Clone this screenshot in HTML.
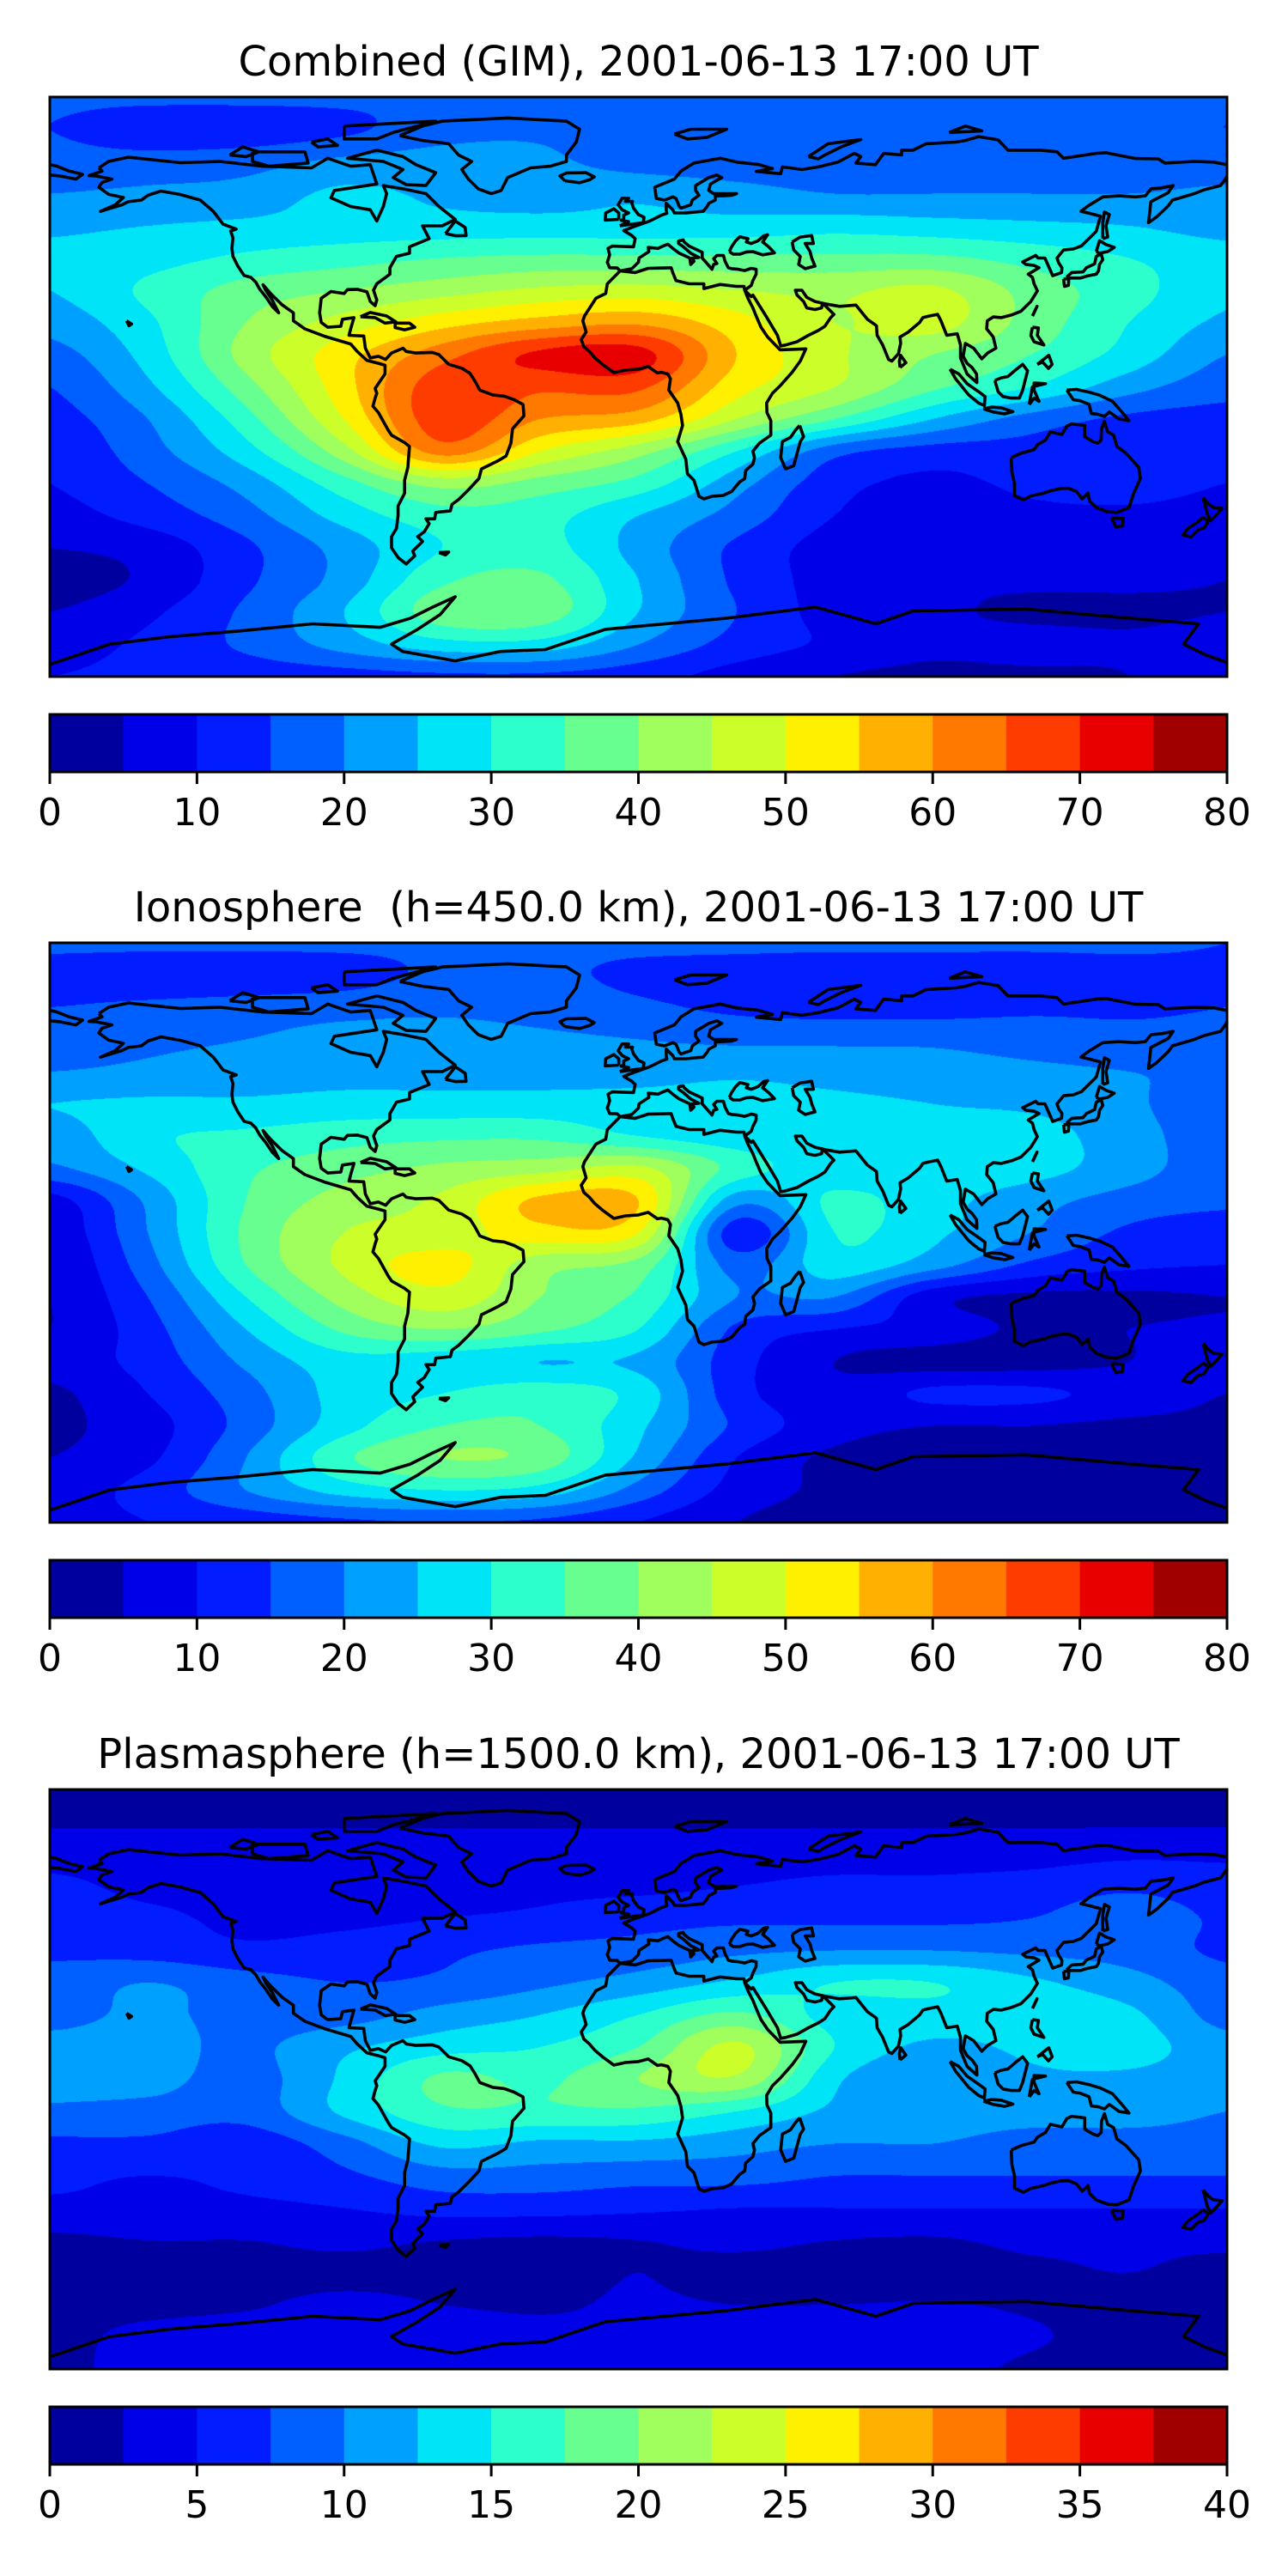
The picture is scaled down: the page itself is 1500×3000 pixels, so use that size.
<!DOCTYPE html>
<html><head><meta charset="utf-8">
<style>
html,body{margin:0;padding:0;background:#fff;}
#wrap{position:relative;width:1500px;height:3000px;overflow:hidden;background:#fff;}
canvas{position:absolute;left:58px;width:1371px;height:675px;}
svg{position:absolute;left:0;top:0;}
text{font-family:"DejaVu Sans","Liberation Sans",sans-serif;fill:#000;}
</style></head>
<body>
<div id="wrap">
<canvas id="c0" width="1371" height="675" style="top:113px"></canvas>
<canvas id="c1" width="1371" height="675" style="top:1098px"></canvas>
<canvas id="c2" width="1371" height="675" style="top:2084px"></canvas>
<svg id="ov" width="1500" height="3000"></svg>
</div>
<script>
// ---- data ----
const lons = [-180,-150,-120,-90,-60,-30,0,30,60,90,120,150,180];
const lats = [90,80,70,60,50,40,30,20,10,0,-10,-20,-30,-40,-50,-60,-70,-80,-90];
const titles = ["Combined (GIM), 2001-06-13 17:00 UT","Ionosphere  (h=450.0 km), 2001-06-13 17:00 UT","Plasmasphere (h=1500.0 km), 2001-06-13 17:00 UT"];
const ticks80 = [0,10,20,30,40,50,60,70,80];
const ticks40 = [0,5,10,15,20,25,30,35,40];
const levelColors = ["#00009f","#0000e8","#001cff","#0060ff","#00a0ff","#00e4f8","#2dffcc","#66ff90","#a0ff5c","#ccff2a","#fff000","#ffb000","#ff7800","#ff3c00","#e80000","#a00000"];
const vmax = [80,80,40];
const gridGIM = [
[16,16,16,16,16,16,16,16,16,16,16,16,16],
[15,12,12,14,18,19,17,16,16,16,16,16,15],
[17,17,18,21,22,21,18,17,17,17,17,17,17],
[20,21,22,26,24,23,24,22,20,20,20,20,21],
[24,25,26,27,27,27,27,27,28,27,26,25,23],
[26,28,31,33,35,36,36,36,36,36,33,30,27],
[25,31,37,40,43,46,47,45,44,46,38,32,26],
[22,29,40,47,53,57,59,52,45,47,38,30,24],
[18,27,42,53,63,71,72,55,46,40,35,28,20],
[15,24,38,53,68,66,66,52,45,36,30,22,17],
[13,20,33,50,68,60,57,45,35,25,18,14,13],
[11,18,28,43,62,50,42,30,17,13,13,12,12],
[10,15,22,33,42,38,33,22,12,9,11,12,10],
[8,12,18,27,33,32,25,18,10,8,9,9,8],
[5,7,14,22,30,32,23,14,8,7,8,8,6],
[3,6,14,22,34,36,25,14,8,6,6,6,5],
[5,9,16,25,38,38,25,15,8,6,4,4,5],
[8,11,16,22,28,28,20,13,9,6,7,6,8],
[10,11,12,13,14,14,12,8,5,4,4,5,9]];
const gridIono = [
[16,16,16,16,16,16,16,16,16,16,16,16,15],
[13,12,12,13,16,16,14,13,12,12,12,13,14],
[15,16,17,18,19,18,16,14,13,13,14,14,15],
[18,19,20,22,22,21,20,19,19,19,18,17,17],
[20,21,22,23,23,23,23,24,23,22,21,20,19],
[25,26,26,27,27,27,27,27,26,25,24,21,16],
[22,29,31,33,34,34,30,27,26,26,27,22,17],
[19,26,34,38,41,43,46,33,27,28,27,22,17],
[8,21,35,42,46,56,55,22,31,27,22,18,16],
[6,20,36,45,47,53,50,12,30,26,20,14,12],
[5,18,35,46,52,42,38,18,28,22,14,11,10],
[5,15,30,42,48,40,34,20,20,7,4,4,5],
[5,13,25,36,40,36,30,14,10,8,4,5,6],
[7,12,21,28,27,25,24,12,5,3,3,5,8],
[4,10,18,27,30,33,28,12,7,11,11,8,5],
[4,8,17,28,35,35,26,14,7,5,5,4,4],
[5,9,20,34,40,38,24,10,4,3,3,3,3],
[7,12,20,27,30,28,18,8,4,3,3,3,4],
[8,10,12,14,15,14,10,5,3,3,3,3,5]];
const gridPlasma = [
[1.5,1.5,1.5,1.5,1.5,1.5,1.5,1.5,1.5,1.5,1.5,1.5,1.5],
[2.2,2.2,2.2,2.2,2.2,2.2,2.2,2.2,2.2,2.2,2.2,2.2,2.2],
[4,4,4,4,4,4,4,4,4,4,4,4.5,4.5],
[5.5,4.5,4.5,4.2,4.2,4.5,4.5,5,5.5,5.5,6,7,6],
[6,5.5,4.5,4.5,5,5.5,6.5,7,7,7,7.5,9,7],
[7,6.5,5.5,6,7,8,8.5,9.5,10,10,9.5,9,7],
[8.5,10,8.5,7.5,8,9.5,11,13,15,15,13,11,8.5],
[9,10.5,9,9,11,12.5,15,18,14,14,14,13,9],
[11,11,9.5,12,14,15,17.5,23,15,12,13,13.5,11],
[11,11,9,13,18,17,20,22,13,10.5,12,12,11],
[9.5,9,8.5,13,17,17,17,15,12,11,11,11,10],
[7,7,6,9,13,12,12,11,10,10,9,9,9],
[5.5,5,5.5,7,9,9,8.5,8.5,7.5,7.5,7.5,7.5,7.5],
[4.5,4.5,4.5,5,6,6,5.5,5,5,5,5,5,5],
[2,2.5,2.5,3,2.5,2.2,2.5,3,2.5,2.3,3,3,3],
[1.5,1.8,2,2,2,2,2.5,2,2,2,2.2,2.5,2],
[2,2,2.3,3,2.5,2.3,2.7,2.5,2.5,2.6,2.3,2,2],
[2,3,3.5,3.8,3.5,3,3,3.5,3.8,3.8,2.7,2,2],
[2,3.2,3.5,3.5,3.5,3.3,3.5,3.5,3.5,3.2,2.2,2,2]];
const grids = [gridGIM, gridIono, gridPlasma];

// ---- coastlines (lon,lat) ----
const coasts = [
[[-165,68],[-162,70],[-156,71.3],[-140,69.6],[-128,70],[-115,68.5],[-100,68],[-95,71],[-88,68.5],[-82,69],[-80,63],[-93,61],[-94,58.7],[-88,56],[-82,55],[-80,51.5],[-78,56],[-77,60],[-78,62.5],[-72,61.5],[-65,60],[-61,56],[-56,52],[-60,50],[-66,50],[-64,46],[-70,43.5],[-70,41.5],[-74,40.5],[-76,37],[-76,35],[-80,32],[-81,30],[-80,27],[-80.5,25.2],[-82,26.5],[-83,29.5],[-86,30.3],[-89,30.2],[-90,29],[-94,29.6],[-97,27.5],[-97.5,23],[-97,20],[-95,18.5],[-91,18.8],[-90.5,21],[-87,21.5],[-88,18],[-88.5,16],[-84,15.8],[-83.5,12],[-82,9],[-79.5,9.5],[-77.3,8.5],[-75.5,10.5],[-72,12],[-71,11],[-68,10.5],[-63,10.7],[-61,10],[-58,7],[-54,5.8],[-51.5,4.2],[-50,1.8],[-48.5,-1],[-44.5,-2.5],[-41,-2.9],[-38,-4],[-35.3,-5.5],[-35,-9],[-38.5,-13],[-39,-17.5],[-40.5,-21.5],[-43,-23],[-48,-25.5],[-48.8,-28.5],[-52,-32],[-55,-35],[-57,-36.5],[-57.5,-38.5],[-62,-39],[-62.3,-41],[-65,-41],[-64,-42.5],[-65.5,-45],[-67.5,-46.5],[-66,-48],[-69,-51],[-68.4,-52.5],[-70,-54],[-71,-55],[-73.5,-53],[-75.5,-50],[-75.5,-46.5],[-74,-44],[-73.5,-40],[-73.5,-37],[-71.5,-33],[-71.5,-29],[-70.5,-25],[-70,-18.5],[-71.5,-17.3],[-75.5,-15],[-76.5,-13.5],[-79.5,-8],[-81.2,-6],[-80.5,-3.5],[-80,-2],[-80.5,-0.5],[-79.5,1],[-78.5,2.5],[-77.5,4],[-77.5,6.7],[-79.5,7.3],[-83,8.2],[-86,11],[-88,13.3],[-92,14.5],[-96,15.7],[-102,18],[-105.5,20.5],[-105.5,23],[-109,25.5],[-112.5,29],[-114.8,31.7],[-114,30],[-112,27],[-110,23],[-112,25],[-114,28],[-115.8,30.3],[-117,32.5],[-118.5,34],[-120.6,34.6],[-122.5,37.5],[-124,40.5],[-124.3,43],[-124,46.3],[-124.7,48.4],[-123,49],[-127,50.5],[-130,54.5],[-134,58],[-140,59.7],[-146,60.8],[-150,59.5],[-152,58],[-156,57.5],[-158,56.5],[-162,55.3],[-164.5,54.5],[-160,56.5],[-157.5,58.8],[-162,59.8],[-165,62],[-164,63.5],[-161,64.5],[-166,65.5],[-168,65.6],[-164,67],[-165,68]],
[[-73,78],[-66,81],[-60,82.5],[-40,83.5],[-22,82.5],[-18,80],[-19,76],[-22,72],[-22,70],[-27,68.5],[-33,68],[-40,65],[-42,61],[-45,60],[-49,61.5],[-52,64.5],[-54,67.5],[-51,70],[-55,72],[-58,75.5],[-66,76.5],[-73,78]],
[[-80,73.5],[-72,71.5],[-68,69],[-62,66.5],[-65,62.5],[-71,62.8],[-75,65],[-72,67.5],[-78,70],[-89,71],[-80,73.5]],
[[-118,73],[-102,73],[-101,69.5],[-113,68.5],[-118,70],[-118,73]],
[[-90,81],[-62,82.5],[-75,79],[-80,77],[-90,77],[-90,81]],
[[-125,72],[-121,74.5],[-116,73],[-120,71.5],[-125,72]],
[[-100,76],[-95,77],[-92,75],[-98,74.5],[-100,76]],
[[-5.6,36],[-9.5,32],[-10,29],[-13,27.5],[-16.5,22],[-17,20.5],[-16,17],[-17.5,14.7],[-16.7,12.5],[-15,11],[-13.3,9],[-11,7],[-7.5,4.4],[-4,5.2],[0,5.5],[3,6.3],[5.8,4.3],[7,4.5],[9,4],[9.8,2.5],[9.3,-1],[12,-5],[13,-8.5],[13.5,-12],[12,-17],[14.5,-22.5],[15,-27],[17,-29],[18.5,-34],[20,-34.8],[22.5,-34],[26,-33.7],[28.5,-32.5],[31,-29.5],[32.5,-28.5],[32.8,-26],[35,-24],[35.5,-22],[35,-20],[37,-17.5],[40.5,-15],[40.5,-10.5],[39.3,-8],[39.2,-5],[41,-2],[43.5,0.5],[47,4.5],[49.5,8],[51.2,11.8],[43.3,11.5],[39.5,15.5],[37.5,18.5],[36,22],[35,24.5],[33.5,27.5],[32.5,30],[32.3,31.2],[30,31.2],[25,31.8],[20,30.5],[20,32],[15.5,32],[11.5,33],[10.5,35.5],[10,37],[8,36.9],[3,36.8],[-1,35.5],[-5.6,36]],
[[32.5,30],[34.5,28],[35,28.5],[39,22],[42.5,16],[43.5,12.7],[45,13],[48.5,14],[52,16],[55,17.5],[57,18.8],[58.8,21.5],[59.8,22.5],[56.3,26],[56,24.5],[54,24],[51.5,24.5],[50.5,26.5],[48.5,28.5],[48,30],[50,30],[51.5,27.8],[54,26.5],[57,25.8],[61.5,25],[66.5,25.4],[68,23.5],[70,21],[72.8,19],[73,16],[74.7,13],[76.5,8.5],[77.5,8],[79.5,10.3],[80.2,13.5],[80,15.5],[82.5,17],[86,20],[87,21.5],[89,22],[91.5,22.5],[92.5,20.5],[94.3,16],[97.5,16.5],[98.5,13],[98.5,9],[100.5,4],[103.5,1.3],[103.4,4],[102,6],[100.5,7.3],[99.3,9.5],[100,13.5],[102.5,12],[105,8.7],[106.8,10.5],[109.3,12],[108.5,15.5],[106.5,18],[106.7,20.5],[108.5,21.7],[111,21.5],[114,22.3],[117,23.5],[120,26.5],[122,29.8],[121,32],[120.5,34],[119.2,35],[122.5,37],[121,37.7],[118.5,38],[117.5,38.8],[121.5,40.8],[122.2,40],[124.3,40],[125.3,37.7],[126.7,34.5],[129.4,35.5],[129.5,37],[128.5,38.5],[128,40],[130,42.5],[133,42.8],[135.5,43.8],[140,48.3],[141.3,53],[137.5,54],[135.3,54.5],[138,56.5],[142,59],[147,59.3],[152,59],[155,59.3],[156.8,61.5],[160,61.8],[163.5,62.5],[162,60.3],[156.7,57.5],[156,51],[158.5,52.8],[162,56.2],[163.3,58],[170,60],[173,61.2],[178,62.5],[179.5,64.5],[180,65.5]],
[[-180,65.8],[-177,65.5],[-172,64.5],[-170,66],[-174,67],[-178,68.6],[-180,69]],
[[180,69],[176,69.8],[170,70],[161,69.5],[159,70.8],[152,70.9],[143,72.7],[140,72.5],[130,71],[128,73],[123,73.5],[113,73.5],[110,76.7],[104,77.7],[100,76.5],[97,76],[88,75.5],[84,73.5],[80.5,73.5],[80.5,72],[75,72.5],[72.5,69],[66.5,69.5],[68,71.5],[66,72.5],[61,69.8],[55,68.3],[50,67.5],[44,68.3],[43.5,66.2],[40,66.5],[36,66.9],[41,67.8],[36.5,69.1],[30,69.8],[25,71],[17,69.5],[13,67],[11,64.5],[5,62],[5.5,58.5],[8,58],[10.5,59],[11.5,58.5],[12.5,56],[13,55.5],[14.5,56],[16,56.5],[16.5,58],[18.5,59.5],[17.5,61],[17.5,62.5],[21.5,65],[24,65.8],[25.5,65],[22,63],[21.5,61],[23,60],[30,60],[28.5,59.5],[23.5,59.2],[23.5,58],[21.5,57],[21,56],[19.8,54.5],[14.5,54],[11,54],[10.5,55],[8.5,57],[8.5,55],[8.7,53.9],[7,53.3],[4.5,52],[3,51.3],[1.5,50.8],[-1.5,49.7],[-4.5,48.5],[-2,47],[-1,46],[-1.5,43.5],[-8,43.7],[-9.3,43],[-8.8,41],[-9.5,38.7],[-8.8,37],[-6.5,36.9],[-5.6,36],[-2,36.7],[0,38.7],[0.2,40],[3.2,42],[3,43.3],[6,43],[7.5,43.7],[9,44.3],[10.5,43],[12.5,41.5],[15.7,40],[16,38],[17,39],[16.5,40],[18.5,40.2],[16,41.5],[13.5,43.7],[12.3,44.5],[12.3,45.3],[13.7,45.6],[14,45],[15.5,43.7],[19.5,41.8],[19.5,40],[21,38.3],[22.5,36.5],[23,38],[24,38.3],[23,39.8],[24,40.8],[26,40.8],[26.5,39],[27.5,37],[28.5,36.7],[30.5,36.5],[32.5,36.1],[34.5,36.8],[36,36.5],[36,35],[35,33],[34.5,31.5],[32.5,30]],
[[27.8,42],[28.5,43.5],[29.7,45.3],[31,46.6],[33.5,46],[33,45],[34.5,44.5],[36.5,45.3],[38.3,46.9],[39.5,47.2],[38,45],[39.8,43.5],[41.6,41.6],[38,41],[35,42],[33,41.9],[31,41.2],[29,41.2],[27.8,42]],
[[47,45],[49.5,46.5],[53,47],[53.5,44.5],[51,44.5],[52.5,42],[53,40],[54,37.5],[51,36.7],[49,38],[49.5,40.5],[47.5,42.5],[47,45]],
[[-5.7,50],[1.5,51],[1.7,52.7],[0,53.5],[-1.5,55.5],[-2,57],[-1.8,57.6],[-4,57.6],[-3,58.6],[-5,58.6],[-6.2,56.5],[-5,55],[-3,54],[-4.5,53.3],[-4.5,52],[-5.3,51.7],[-3,51.3],[-5.7,50]],
[[-6,52],[-6,54],[-7.5,55.3],[-10,54],[-10.2,51.8],[-6,52]],
[[-22.5,64],[-24,65.5],[-22,66.4],[-16,66.5],[-13.5,65.2],[-15,64.3],[-18,63.4],[-22.5,64]],
[[11,78.5],[16,80],[27,80],[21,77.5],[15,77],[11,78.5]],
[[52,71.5],[55,73.5],[58,75.5],[68,76.8],[62,74.5],[57,72],[55,70.8],[52,71.5]],
[[95,79],[105,79.5],[100,81],[95,79]],
[[130.9,34],[132.5,35.5],[136,35.7],[137,37],[139.5,38.2],[140,40.5],[141.5,41.3],[142,39.5],[141,38],[140.7,36],[140,35],[138,34.6],[136.8,34.3],[135.2,33.8],[132,33.8],[130.9,34]],
[[130,33.5],[131.6,33.6],[131.5,31.5],[130.3,31.2],[130,33.5]],
[[140,42],[141,45.4],[143,44.2],[145.5,43.3],[143.5,42],[141,41.5],[140,42]],
[[142,46],[143.5,46.5],[143,50],[144,53.5],[142.5,54.3],[142,51],[142,46]],
[[120.5,22],[121.9,25],[121,23],[120.5,22]],
[[80,6],[81.8,7.5],[80.2,9.8],[79.8,8],[80,6]],
[[120.5,18.5],[122.3,18.3],[122,16],[124,13],[121,14],[120,16],[120.5,18.5]],
[[122,7],[125.5,9.8],[126.5,7],[125.4,5.7],[123.6,7.7],[122,7]],
[[109,2],[111,2.8],[113,3.2],[115.5,5.4],[117.5,7],[119,5],[118,1],[117.5,-1],[116.5,-3.5],[114,-3.5],[111.5,-3],[110,-1.5],[109,2]],
[[95.3,5.5],[98,4],[100.5,1],[104,-1.5],[106,-3],[105.8,-5.8],[104,-5],[101,-2.5],[99,0],[97,2.5],[95.3,5.5]],
[[105.5,-6.8],[108,-6.3],[111,-6.5],[114.5,-7.7],[112,-8.4],[108.5,-7.8],[105.5,-6.8]],
[[119.5,-5.5],[120.5,0],[124.5,1],[121,1.2],[121,-1],[122.5,-4.5],[121,-3.5],[119.5,-5.5]],
[[131,-1],[134,-0.8],[138,-1.7],[141,-2.6],[145,-4.5],[148,-8],[150,-10.5],[147,-10],[144,-7.8],[142.5,-9.2],[140.5,-8.5],[138.5,-8.3],[137.8,-5.4],[135,-4.3],[133,-4],[132,-2.5],[131,-1]],
[[114,-22],[114.2,-26.5],[115,-30],[115,-33.8],[117.8,-35.1],[120,-33.9],[124,-33],[126,-32.3],[129,-31.6],[131.5,-31.5],[134,-32.5],[135.7,-34.8],[137.5,-33],[138,-35.5],[140,-37.5],[143.5,-38.8],[146.3,-39],[150,-37.5],[151.5,-33],[153.5,-28.5],[153,-25],[150.8,-22.5],[149,-20.5],[146.3,-18.5],[145.3,-15],[143.5,-14],[142.5,-10.7],[141.6,-13],[141.5,-16.5],[140.5,-17.5],[139,-17],[136.5,-15.5],[136.5,-12],[132.5,-11.5],[131,-12.2],[129.5,-14.8],[126,-14],[124.5,-16.5],[122,-18],[121,-19.5],[117,-20.6],[114,-22]],
[[144.7,-40.7],[148.3,-40.9],[148,-43.2],[146,-43.5],[144.7,-40.7]],
[[172.7,-34.4],[174.5,-36.5],[175.9,-37.5],[178.5,-37.7],[177,-39.5],[175,-41.5],[174,-39.5],[172.7,-34.4]],
[[172.7,-40.5],[174.3,-41.7],[173,-43.8],[171,-44.5],[169,-46.6],[166.5,-46],[168,-44],[171,-42],[172.7,-40.5]],
[[49.3,-12],[50.5,-15.5],[49.5,-17],[47.5,-24.5],[45,-25.5],[43.5,-22],[44,-17],[46.5,-15.7],[48,-13.5],[49.3,-12]],
[[-85,21.8],[-82,23.1],[-77,22],[-74.2,20.2],[-77.5,19.8],[-80.5,21.5],[-85,21.8]],
[[-74.4,19.8],[-70,19.8],[-68.4,18.5],[-71.5,17.7],[-74.4,18.4],[-74.4,19.8]],
[[-59,47.6],[-56,51.5],[-53,49.5],[-52.7,47],[-55.8,46.9],[-59,47.6]],
[[-156.5,20.5],[-155,19.5],[-155.8,19],[-156.5,20.5]],
[[-61,-51.5],[-58,-51.3],[-59,-52.2],[-61,-51.5]],
[[-180,-86.2],[-161.6,-79.9],[-143.3,-77.6],[-122.6,-75.9],[-99.6,-73.6],[-79,-74.7],[-69.8,-71.9],[-62.9,-68.4],[-56,-65.2],[-60.6,-70.7],[-67.5,-75.3],[-75.5,-79.9],[-72.1,-82.2],[-56,-85.1],[-42.2,-82.2],[-28.5,-81.6],[-10.1,-75.3],[26.6,-71.9],[54.2,-68.4],[72.6,-73.6],[84,-69.6],[118.5,-69],[150.6,-71.9],[171.3,-73.6],[166.7,-79.9],[173.6,-83.3],[180,-85.6]]
];

// ---- geometry ----
const X0 = 58, W = 1371, H = 675;
const mapTop = [113, 1098, 2084];
const NS = "http://www.w3.org/2000/svg";
const svg = document.getElementById('ov');

function lonToX(lon){ return X0 + (lon + 180) / 360 * W; }
function latToY(lat, top){ return top + (90 - lat) / 180 * H; }

function cr(p0,p1,p2,p3,t){
  return p1 + 0.5*t*(p2-p0 + t*(2*p0-5*p1+4*p2-p3 + t*(3*(p1-p2)+p3-p0)));
}
function sample(g, lon, lat){
  const fx = (lon - lons[0]) / (lons[1]-lons[0]);
  const fy = (lats[0] - lat) / (lats[0]-lats[1]);
  const nx = lons.length, ny = lats.length;
  const ix = Math.min(Math.floor(fx), nx-2), iy = Math.min(Math.floor(fy), ny-2);
  const tx = fx - ix, ty = fy - iy;
  const rows = [];
  for (let j=-1;j<=2;j++){
    const r = g[Math.max(0,Math.min(ny-1,iy+j))];
    const v = [];
    for (let i=-1;i<=2;i++) v.push(r[Math.max(0,Math.min(nx-1,ix+i))]);
    rows.push(cr(v[0],v[1],v[2],v[3],tx));
  }
  return cr(rows[0],rows[1],rows[2],rows[3],ty);
}
function hex(c){ return [parseInt(c.substr(1,2),16),parseInt(c.substr(3,2),16),parseInt(c.substr(5,2),16)]; }
const rgb = levelColors.map(hex);

function drawMap(k){
  const cv = document.getElementById('c'+k);
  const ctx = cv.getContext('2d');
  const img = ctx.createImageData(W, H);
  const g = grids[k], step = vmax[k] / 16;
  for (let y=0;y<H;y++){
    const lat = 90 - (y+0.5)/H*180;
    for (let x=0;x<W;x++){
      const lon = -180 + (x+0.5)/W*360;
      let v = sample(g, lon, lat);
      let li = Math.floor(v/step); if (li<0) li=0; if (li>15) li=15;
      const c = rgb[li], o = (y*W+x)*4;
      img.data[o]=c[0]; img.data[o+1]=c[1]; img.data[o+2]=c[2]; img.data[o+3]=255;
    }
  }
  ctx.putImageData(img,0,0);
}

function el(tag, attrs){
  const e = document.createElementNS(NS, tag);
  for (const a in attrs) e.setAttribute(a, attrs[a]);
  svg.appendChild(e);
  return e;
}

for (let k=0;k<3;k++){
  drawMap(k);
  const top = mapTop[k];
  const t = el('text', {x: 743.5, y: top-25, 'text-anchor':'middle', 'font-size':'48', 'xml:space':'preserve'});
  
  
  t.style.whiteSpace = 'pre';
  t.textContent = titles[k];
  const cp = document.createElementNS(NS,'clipPath'); cp.setAttribute('id','clip'+k);
  const cr_ = document.createElementNS(NS,'rect');
  cr_.setAttribute('x',X0); cr_.setAttribute('y',top); cr_.setAttribute('width',W); cr_.setAttribute('height',H);
  cp.appendChild(cr_); svg.appendChild(cp);
  const cg = el('g', {fill:'none', stroke:'#000', 'stroke-width':'3.6', 'stroke-linejoin':'round', 'clip-path':'url(#clip'+k+')'});
  
  
  coasts.forEach(line => {
    const pts = line.map(p => lonToX(p[0]).toFixed(1)+','+latToY(p[1],top).toFixed(1)).join(' ');
    const pl = document.createElementNS(NS,'polyline');
    pl.setAttribute('points', pts);
    
    
    cg.appendChild(pl);
  });
  const fr = el('rect', {x:X0, y:top, width:W, height:H, fill:'none', stroke:'#000', 'stroke-width':'3'});
  
  
  const cbTop = top + 719, cbH = 67;
  const cb = el('g', {});
  
  
  for (let i=0;i<16;i++){
    const r = document.createElementNS(NS,'rect');
    r.setAttribute('x', (X0 + i*W/16).toFixed(2));
    r.setAttribute('y', cbTop);
    r.setAttribute('width', (W/16+0.6).toFixed(2));
    r.setAttribute('height', cbH);
    r.setAttribute('fill', levelColors[i]);
    
    
    cb.appendChild(r);
  }
  const cbf = el('rect', {x:X0, y:cbTop, width:W, height:cbH, fill:'none', stroke:'#000', 'stroke-width':'3'});
  
  
  const tks = vmax[k] === 80 ? ticks80 : ticks40;
  tks.forEach(v => {
    const x = X0 + v / vmax[k] * W;
    const tl = el('line', {x1:x, x2:x, y1:cbTop+cbH, y2:cbTop+cbH+14, stroke:'#000', 'stroke-width':'3'});
    
    
    const lb = el('text', {x:x, y:cbTop+cbH+62, 'text-anchor':'middle', 'font-size':'44'});
    
    
    lb.textContent = String(v);
  });
}
</script>
</body></html>
